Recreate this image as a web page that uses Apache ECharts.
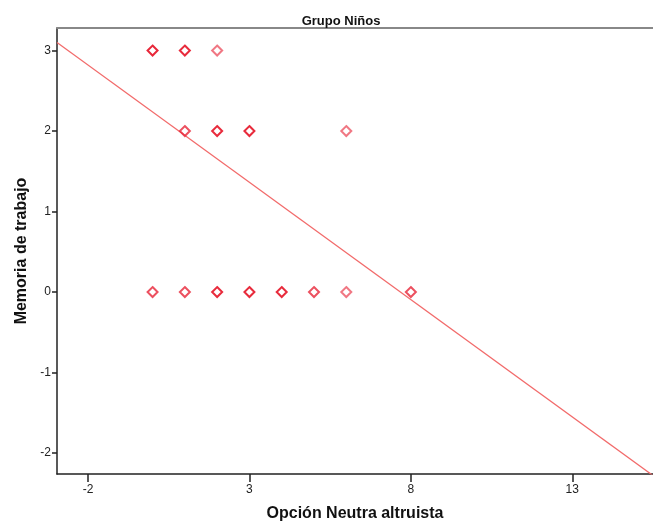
<!DOCTYPE html>
<html>
<head>
<meta charset="utf-8">
<script src="https://cdn.jsdelivr.net/npm/echarts@6/dist/echarts.min.js"></script>
<style>
html,body{margin:0;padding:0;background:#fff;}
#c{width:653px;height:525px;}
</style>
</head>
<body>
<div id="c"></div>
<script>
// Data
const pointX     = [0, 1, 2, 1, 2, 3, 6, 0, 1, 2, 3, 4, 5, 6, 8];
const pointY     = [3, 3, 3, 2, 2, 2, 2, 0, 0, 0, 0, 0, 0, 0, 0];
const pointCount = [4, 3, 1, 2, 3, 3, 1, 2, 2, 3, 3, 3, 2, 1, 2];
const fitLineX   = [-2.96, 15.5];
const fitLineY   = [3.10, -2.28];
const xTicks     = [-2, 3, 8, 13];
const yTicks     = [-2, -1, 0, 1, 2, 3];

const scatterData = pointX.map((x, i) => ({
  value: [x, pointY[i]],
  itemStyle: { opacity: Math.min(1, 0.45 + 0.18 * pointCount[i]) }
}));
const lineData = fitLineX.map((x, i) => [x, fitLineY[i]]);

const chart = echarts.init(document.getElementById('c'), null, { renderer: 'canvas' });
const labelStyle = { color: '#222', fontFamily: 'Liberation Sans, Arial, sans-serif', fontSize: 12 };
chart.setOption({
  animation: false,
  backgroundColor: '#fff',
  title: {
    text: 'Grupo Niños',
    left: 336, top: 10, textAlign: 'center',
    textStyle: { fontFamily: 'Liberation Sans, Arial, sans-serif', fontSize: 13, fontWeight: 'bold', color: '#111' }
  },
  grid: { left: 57, top: 28, right: 0, bottom: 51, containLabel: false, outerBoundsMode: 'none' },
  xAxis: [{
    type: 'value', min: -2.96, max: 15.5,
    name: 'Opción Neutra altruista', nameLocation: 'middle', nameGap: 32,
    nameTextStyle: { fontFamily: 'Liberation Sans, Arial, sans-serif', fontSize: 16, fontWeight: 'bold', color: '#111' },
    axisLine: { show: true, onZero: false, lineStyle: { color: '#222', width: 1.5 } },
    axisTick: { show: true, length: 8, customValues: xTicks, lineStyle: { color: '#222', width: 1.5 } },
    axisLabel: Object.assign({ customValues: xTicks, margin: 10 }, labelStyle),
    splitLine: { show: false }
  }, {
    type: 'value', position: 'top', min: -2.96, max: 15.5,
    axisLine: { show: true, onZero: false, lineStyle: { color: '#888', width: 2 } },
    axisTick: { show: false }, axisLabel: { show: false }, splitLine: { show: false }
  }],
  yAxis: {
    type: 'value', min: -2.26, max: 3.28,
    name: 'Memoria de trabajo', nameLocation: 'middle', nameGap: 27, nameRotate: 90,
    nameTextStyle: { fontFamily: 'Liberation Sans, Arial, sans-serif', fontSize: 16, fontWeight: 'bold', color: '#111' },
    axisLine: { show: true, onZero: false, lineStyle: { color: '#222', width: 1.5 } },
    axisTick: { show: true, length: 5, customValues: yTicks, lineStyle: { color: '#222', width: 1.5 } },
    axisLabel: Object.assign({ customValues: yTicks, margin: 6 }, labelStyle),
    splitLine: { show: false }
  },
  series: [{
    type: 'line', data: lineData, symbol: 'none', silent: true,
    lineStyle: { color: '#f26b6b', width: 1.2 }, z: 2
  }, {
    type: 'scatter', data: scatterData, symbol: 'diamond', symbolSize: [10, 10],
    itemStyle: { color: 'transparent', borderColor: '#e8283a', borderWidth: 2 }, z: 3
  }]
});
</script>
</body>
</html>
